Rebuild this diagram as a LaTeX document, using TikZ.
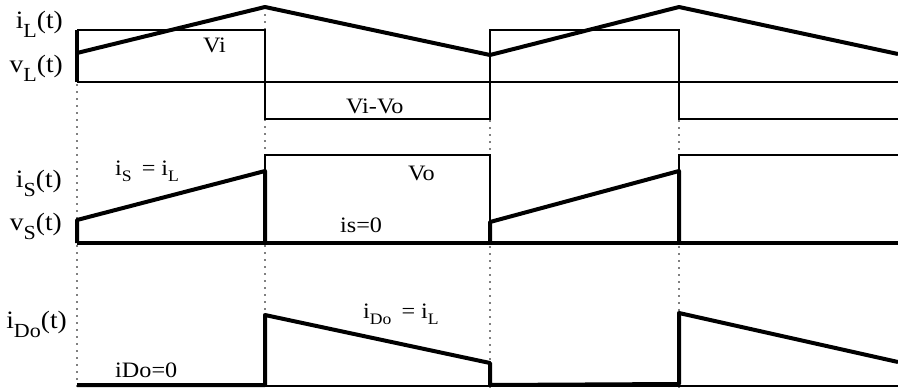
\documentclass[tikz,border=0pt]{standalone}
\usepackage{fontspec}
\setmainfont{Liberation Serif}
\newcommand\lsub[1]{\raisebox{-0.36em}{\fontsize{20}{20}\selectfont #1}}
\newcommand\tsub[1]{\raisebox{-0.3em}{\fontsize{16}{16}\selectfont #1}}
\newcommand\hst[1]{\scalebox{1.1}[1]{#1}}
\begin{document}
\begin{tikzpicture}[x=1pt,y=-1pt,
  wave/.style={line width=4pt, line join=round},
  volt/.style={line width=2.2pt},
  guide/.style={gray, line width=1.2pt, dash pattern=on 2pt off 5pt},
  lab/.style={font=\fontsize{25}{25}\selectfont, inner sep=0pt},
  txt/.style={font=\fontsize{22}{22}\selectfont, inner sep=0pt}]
\useasboundingbox (0,0) rectangle (898,391);
% guide lines
\draw[guide] (77,84) -- (77,391);
\draw[guide] (265,14) -- (265,391);
\draw[guide] (490,120) -- (490,391);
\draw[guide] (679,120) -- (679,391);
% panel 1: v_L and i_L
\draw[volt] (77,82) -- (898,82);
\draw[volt] (77,30) -- (265,30) -- (265,119) -- (490,119) -- (490,30) -- (679,30) -- (679,119) -- (898,119);
\draw[line width=3.3pt] (77,82) -- (77,30);
\draw[wave] (77,53) -- (265,7) -- (490,55) -- (679,7) -- (898,54);
% panel 2: v_S and i_S
\draw[volt] (265,243) -- (265,155) -- (490,155) -- (490,243);
\draw[volt] (679,243) -- (679,155) -- (898,155);
\draw[wave] (77,243) -- (898,243);
\draw[wave] (77,243) -- (77,220) -- (265,171) -- (265,243);
\draw[wave] (490,243) -- (490,222) -- (679,171) -- (679,243);
% panel 3: i_Do
\draw[volt] (77,386) -- (898,386);
\draw[wave] (77,385) -- (265,385) -- (265,315) -- (490,363) -- (490,385) -- (679,384) -- (679,313) -- (898,362);
% left labels
\node[lab, anchor=base east] (iL) at (63,28) {\hst{i\lsub{L}(t)}};
\node[lab, anchor=base east] (vL) at (63,72) {\hst{v\lsub{L}(t)}};
\node[lab, anchor=base east] (iS) at (62,187) {\hst{i\lsub{S}(t)}};
\node[lab, anchor=base east] (vS) at (62,230) {\hst{v\lsub{S}(t)}};
\node[lab, anchor=base east] (iDo) at (67,328) {\hst{i\lsub{Do}(t)}};
% waveform texts
\node[txt, anchor=base west] (vi) at (203,52) {\hst{Vi}};
\node[txt, anchor=base west] (vivo) at (346,113) {\hst{Vi-Vo}};
\node[txt, anchor=base west] (isil) at (115,175) {\hst{i\tsub{S} \,= i\tsub{L}}};
\node[txt, anchor=base west] (vo) at (408,180) {\hst{Vo}};
\node[txt, anchor=base west] (is0) at (340,232) {\hst{is=0}};
\node[txt, anchor=base west] (ido0) at (115,377) {\hst{iDo=0}};
\node[txt, anchor=base west] (idoil) at (363,318) {\hst{i\tsub{Do} \,= i\tsub{L}}};
\end{tikzpicture}
\end{document}
